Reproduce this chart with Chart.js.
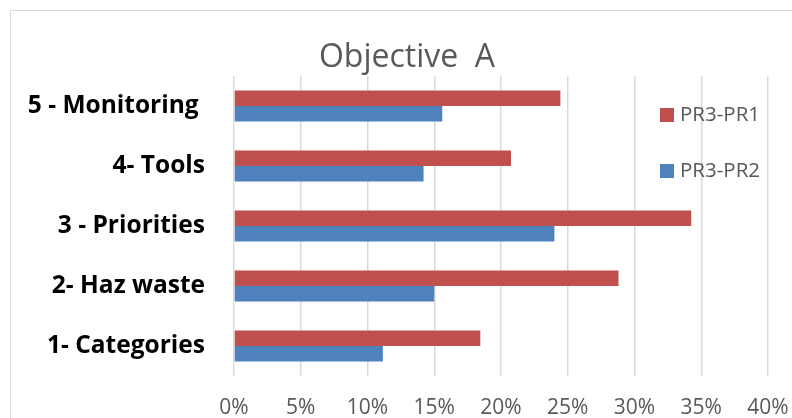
<!DOCTYPE html>
<html>
<head>
<meta charset="utf-8">
<script src="https://cdn.jsdelivr.net/npm/chart.js@4"></script>
<style>
  html, body { margin: 0; padding: 0; background: #fff; overflow: hidden; }
  #wrap { position: relative; width: 792px; height: 418px; }
  #frame { position: absolute; left: 10px; top: 10px; width: 800px; height: 420px;
           border: 1.5px solid #d9d9d9; box-sizing: border-box; }
  canvas { position: absolute; left: 0; top: 0; }
</style>
</head>
<body>
<div id="wrap">
  <div id="frame"></div>
  <canvas id="chart" width="792" height="418"></canvas>
</div>
<script>
  // categories, top to bottom
  const categories = ['5 - Monitoring ', '4- Tools', '3 - Priorities', '2- Haz waste', '1- Categories'];
  const pr3pr1 = [24.45, 20.75, 34.25, 28.8, 18.45];
  const pr3pr2 = [15.6, 14.2, 24.0, 15.0, 11.15];
  const seriesNames = ['PR3-PR1', 'PR3-PR2'];
  const xTicks = [0, 5, 10, 15, 20, 25, 30, 35, 40];

  const red = '#C0504D';
  const blue = '#4F81BD';
  const grey = '#595959';

  // title + legend drawn by hand, Excel style (legend sits over the grid)
  const decor = {
    id: 'decor',
    afterDraw(chart) {
      const c = chart.ctx;
      c.save();
      c.fillStyle = grey;
      c.font = '32px "Open Sans"';
      c.textAlign = 'center';
      c.textBaseline = 'alphabetic';
      c.fillText('Objective  A', 407, 67);

      c.font = '20.5px "Open Sans"';
      c.textAlign = 'left';
      c.textBaseline = 'middle';
      chart.data.datasets.forEach((ds, i) => {
        const y = 108 + i * 56;
        c.fillStyle = ds.backgroundColor;
        c.fillRect(660, y, 14, 14);
        c.fillStyle = grey;
        c.fillText(ds.label, 680, y + 7.5);
      });
      c.restore();
    }
  };

  new Chart(document.getElementById('chart'), {
    type: 'bar',
    data: {
      labels: categories,
      datasets: [
        { label: seriesNames[0], data: pr3pr1, backgroundColor: red },
        { label: seriesNames[1], data: pr3pr2, backgroundColor: blue }
      ]
    },
    options: {
      indexAxis: 'y',
      responsive: false,
      animation: false,
      categoryPercentage: 0.517,
      barPercentage: 1,
      layout: { padding: { top: 76, right: 24, left: 0, bottom: 0 } },
      plugins: {
        legend: { display: false },
        title: { display: false },
        tooltip: { enabled: false }
      },
      scales: {
        x: {
          min: 0,
          max: 40,
          afterBuildTicks(scale) { scale.ticks = xTicks.map(v => ({ value: v })); },
          afterFit(scale) {
            scale.height = 42;
            scale.paddingLeft = scale.paddingRight = 0;
            scale.paddingTop = scale.paddingBottom = 0;
          },
          border: { display: false },
          grid: { color: '#d9d9d9', lineWidth: 1.5, drawTicks: false },
          ticks: {
            padding: 19,
            color: grey,
            font: { family: 'Open Sans', size: 21 },
            callback: v => v + '%'
          }
        },
        y: {
          afterFit(scale) {
            scale.width = 234;
            scale.paddingLeft = scale.paddingRight = 0;
            scale.paddingTop = scale.paddingBottom = 0;
          },
          border: { display: false },
          grid: { display: false, drawTicks: false },
          ticks: {
            padding: 29,
            color: '#000',
            font: { family: 'Open Sans', size: 24.5, weight: 'bold' }
          }
        }
      }
    },
    plugins: [decor]
  });
</script>
</body>
</html>
